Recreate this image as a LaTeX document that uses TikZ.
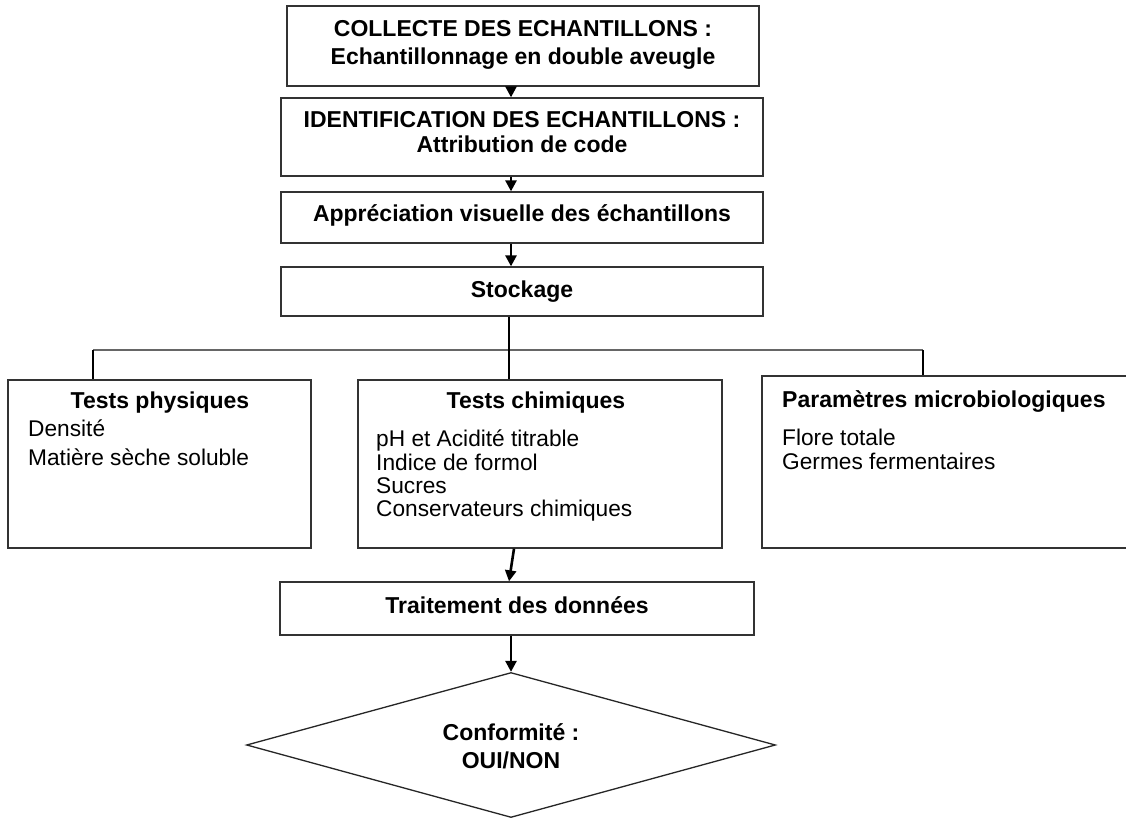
\documentclass[tikz,border=0pt]{standalone}
\usepackage{fontspec}
\setmainfont{Liberation Sans}
\usetikzlibrary{arrows.meta,shapes.geometric}
\begin{document}
\begin{tikzpicture}[x=1pt,y=-1pt,
  box/.style={draw=black!80,line width=1.3pt,fill=white,rectangle,inner sep=0pt},
  lblc/.style={anchor=base,font=\fontsize{23}{27}\selectfont\bfseries,inner sep=0pt},
  lblbw/.style={anchor=base west,font=\fontsize{23}{27}\selectfont\bfseries,inner sep=0pt},
  lbl/.style={anchor=base west,font=\fontsize{22.7}{27}\selectfont,inner sep=0pt},
  conn/.style={line width=2.6pt,black},
  branch/.style={line width=2.2pt,black!60},
  arr/.style={conn,-{Triangle[width=11pt,length=11pt]}},
  ]
\clip (0,0) rectangle (1126,818);
\fill[white] (0,0) rectangle (1126,818);

% boxes
\node[box,minimum width=472pt,minimum height=80pt] (b1) at (523,46) {};
\node[box,minimum width=482pt,minimum height=78pt] (b2) at (522,137) {};
\node[box,minimum width=482pt,minimum height=51pt] (b3) at (522,217.5) {};
\node[box,minimum width=482pt,minimum height=49pt] (b4) at (522,291.5) {};
\node[box,minimum width=303pt,minimum height=168pt] (phys) at (159.5,464) {};
\node[box,minimum width=364pt,minimum height=168pt] (chim) at (540,464) {};
\node[box,minimum width=390pt,minimum height=172pt] (param) at (957,462) {};
\node[box,minimum width=474pt,minimum height=53pt] (trait) at (517,608.5) {};
\node[draw=black!85,line width=1.3pt,fill=white,diamond,minimum width=529pt,minimum height=145pt,inner sep=0pt] (dia) at (511,745) {};

% labels
\node[lblc] (t1a) at (523,37) {COLLECTE DES ECHANTILLONS :};
\node[lblc] (t1b) at (523,65) {Echantillonnage en double aveugle};
\node[lblc] (t2a) at (522,128) {IDENTIFICATION DES ECHANTILLONS :};
\node[lblc] (t2b) at (522,153) {Attribution de code};
\node[lblc] (t3) at (522,222) {Appréciation visuelle des échantillons};
\node[lblc] (t4) at (522,297) {Stockage};
\node[lblc] (tp) at (160,408) {Tests physiques};
\node[lbl] (tp1) at (28,436) {Densité};
\node[lbl] (tp2) at (28,465) {Matière sèche soluble};
\node[lblc] (tc) at (536,408) {Tests chimiques};
\node[lbl] (tc1) at (376,446) {pH et Acidité titrable};
\node[lbl] (tc2) at (376,470) {Indice de formol};
\node[lbl] (tc3) at (376,493) {Sucres};
\node[lbl] (tc4) at (376,516) {Conservateurs chimiques};
\node[lblbw] (tm) at (782,407) {Paramètres microbiologiques};
\node[lbl] (tm1) at (782,445) {Flore totale};
\node[lbl] (tm2) at (782,469) {Germes fermentaires};
\node[lblc] (tt) at (517,613) {Traitement des données};
\node[lblc] (td1) at (511,740) {Conformité :};
\node[lblc] (td2) at (511,768) {OUI/NON};

% helper x positions
\coordinate (xa) at (511,0);
\coordinate (xs) at (509,0);
\coordinate (xl) at (93,0);
\coordinate (xr) at (923,0);
\coordinate (xc) at (514,0);
\coordinate (br) at (509,350);

% connectors
\draw[arr] (b1.south -| xa) -- (b2.north -| xa);
\draw[arr] (b2.south -| xa) -- (b3.north -| xa);
\draw[arr] (b3.south -| xa) -- (b4.north -| xa);
\draw[branch] (xl |- br) -- (xr |- br);
\draw[conn] (b4.south -| xs) -- (chim.north -| xs);
\draw[conn] (xl |- br) -- (phys.north -| xl);
\draw[conn] (xr |- br) -- (param.north -| xr);
\draw[arr] (chim.south -| xc) -- (trait.north -| xs);
\draw[arr] (trait.south -| dia.north) -- (dia.north);
\end{tikzpicture}
\end{document}
